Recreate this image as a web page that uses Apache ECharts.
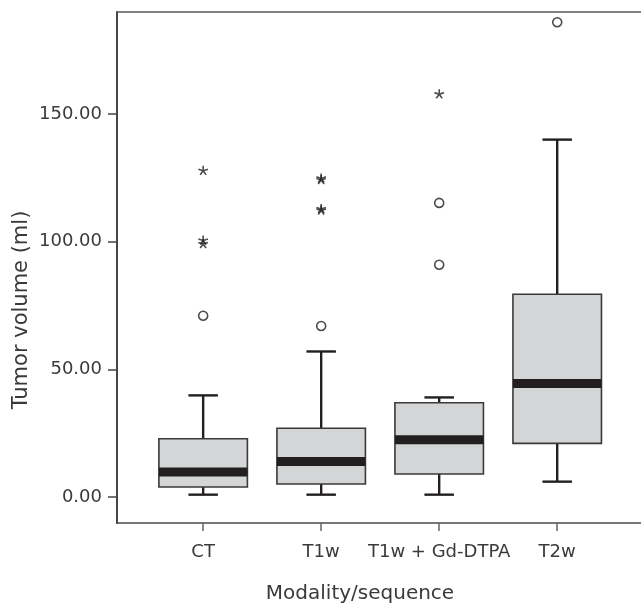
<!DOCTYPE html>
<html>
<head>
<meta charset="utf-8">
<script src="https://cdn.jsdelivr.net/npm/echarts@6/dist/echarts.min.js"></script>
<style>html,body{margin:0;padding:0;background:#fff}#c{width:641px;height:604px}</style>
</head>
<body>
<div id="c"></div>
<script>
// ---- data ----
var categories = ['CT', 'T1w', 'T1w + Gd-DTPA', 'T2w'];
// [min, Q1, median, Q3, max]
var boxMin    = [0.9, 0.9, 0.9, 6.0];
var boxQ1     = [3.9, 5.1, 9.0, 21.0];
var boxMedian = [9.8, 13.9, 22.4, 44.5];
var boxQ3     = [22.8, 26.9, 36.9, 79.4];
var boxMax    = [39.8, 57.0, 39.0, 140.0];
// outliers: category index (1-based), value
var circleCat = [1, 2, 3, 3, 4];
var circleVal = [71.0, 67.0, 115.2, 91.0, 186.0];
var starCat   = [1, 1, 1, 2, 2, 2, 2, 3];
var starVal   = [127.9, 100.6, 99.2, 124.3, 124.9, 112.3, 112.9, 157.9];
var yTicks = [0, 50, 100, 150];

var boxData = categories.map(function (c, i) {
  return [i + 1, boxMin[i], boxQ1[i], boxMedian[i], boxQ3[i], boxMax[i]];
});
var circleData = circleCat.map(function (c, i) { return [c, circleVal[i]]; });
var starData = starCat.map(function (c, i) { return [c, starVal[i]]; });

// asterisk symbol path (5 spokes)
function asteriskPath() {
  var parts = [], L = 50, w = 8;
  for (var k = 0; k < 5; k++) {
    var a = -Math.PI / 2 + k * 2 * Math.PI / 5;
    var dx = Math.cos(a), dy = Math.sin(a), px = -dy * w, py = dx * w;
    var cx = 50, cy = 50;
    var p = [
      [cx + px, cy + py], [cx + dx * L + px, cy + dy * L + py],
      [cx + dx * L - px, cy + dy * L - py], [cx - px, cy - py]
    ];
    parts.push('M' + p.map(function (q) { return q[0].toFixed(2) + ' ' + q[1].toFixed(2); }).join(' L') + ' Z');
  }
  return 'path://' + parts.join(' ');
}

var textColor = '#3a3a3a';
var font = 'DejaVu Sans';

var chart = echarts.init(document.getElementById('c'), null, { renderer: 'canvas' });
chart.setOption({
  animation: false,
  backgroundColor: '#fff',
  grid: { left: 117, right: 0, top: 12, bottom: 81 },
  xAxis: [{
    type: 'value', min: 0.27, max: 4.71, position: 'bottom',
    axisLine: { show: true, onZero: false, lineStyle: { color: '#4a4a4a', width: 1.5 } },
    axisTick: { show: true, customValues: [1, 2, 3, 4], length: 8, lineStyle: { color: '#666', width: 1.5 } },
    axisLabel: {
      customValues: [1, 2, 3, 4], margin: 20, color: textColor, fontFamily: font, fontSize: 18,
      formatter: function (v) { return categories[Math.round(v) - 1]; }
    },
    splitLine: { show: false }
  }, {
    type: 'value', min: 0.27, max: 4.71, position: 'top',
    axisLine: { show: true, onZero: false, lineStyle: { color: '#5a5a5a', width: 1.5 } },
    axisTick: { show: false }, axisLabel: { show: false }, splitLine: { show: false }
  }],
  yAxis: {
    type: 'value', min: -10.2, max: 190,
    axisLine: { show: true, onZero: false, lineStyle: { color: '#333', width: 1.8 } },
    axisTick: { show: true, customValues: yTicks, length: 9, lineStyle: { color: '#444', width: 1.5 } },
    axisLabel: {
      customValues: yTicks, margin: 15, color: textColor, fontFamily: font, fontSize: 18,
      formatter: function (v) { return v.toFixed(2); }
    },
    splitLine: { show: false }
  },
  graphic: [
    {
      type: 'text', x: 22, y: 310, rotation: Math.PI / 2,
      style: { text: 'Tumor volume (ml)', fill: textColor, font: '21px "DejaVu Sans"', align: 'center', verticalAlign: 'middle' }
    },
    {
      type: 'text', x: 360, y: 594,
      style: { text: 'Modality/sequence', fill: textColor, font: '20px "DejaVu Sans"', align: 'center', verticalAlign: 'middle' }
    }
  ],
  series: [{
    type: 'custom',
    data: boxData,
    encode: { x: 0, y: [1, 2, 3, 4, 5] },
    renderItem: function (params, api) {
      var x = api.value(0);
      var pMin = api.coord([x, api.value(1)]);
      var pQ1 = api.coord([x, api.value(2)]);
      var pMed = api.coord([x, api.value(3)]);
      var pQ3 = api.coord([x, api.value(4)]);
      var pMax = api.coord([x, api.value(5)]);
      var bw = api.size([0.75, 0])[0];
      var cw = api.size([0.25, 0])[0];
      var cx = pMed[0];
      var wStyle = { stroke: '#231f20', lineWidth: 2.4 };
      return {
        type: 'group',
        children: [
          { type: 'line', shape: { x1: cx, y1: pMax[1], x2: cx, y2: pQ3[1] }, style: wStyle },
          { type: 'line', shape: { x1: cx, y1: pQ1[1], x2: cx, y2: pMin[1] }, style: wStyle },
          { type: 'line', shape: { x1: cx - cw / 2, y1: pMax[1], x2: cx + cw / 2, y2: pMax[1] }, style: wStyle },
          { type: 'line', shape: { x1: cx - cw / 2, y1: pMin[1], x2: cx + cw / 2, y2: pMin[1] }, style: wStyle },
          { type: 'rect', shape: { x: cx - bw / 2, y: pQ3[1], width: bw, height: pQ1[1] - pQ3[1] },
            style: { fill: '#d4d5d7', stroke: '#3a3a3a', lineWidth: 1.6 } },
          { type: 'rect', shape: { x: cx - bw / 2, y: pMed[1] - 4.5, width: bw, height: 9 },
            style: { fill: '#231f20' } }
        ]
      };
    }
  }, {
    type: 'scatter',
    data: circleData,
    symbol: 'circle', symbolSize: 9,
    itemStyle: { color: '#fff', borderColor: '#231f20', borderWidth: 1.6 },
    z: 5
  }, {
    type: 'scatter',
    data: starData,
    symbol: asteriskPath(), symbolSize: 10, symbolKeepAspect: true,
    itemStyle: { color: '#231f20' },
    z: 5
  }]
});
</script>
</body>
</html>
